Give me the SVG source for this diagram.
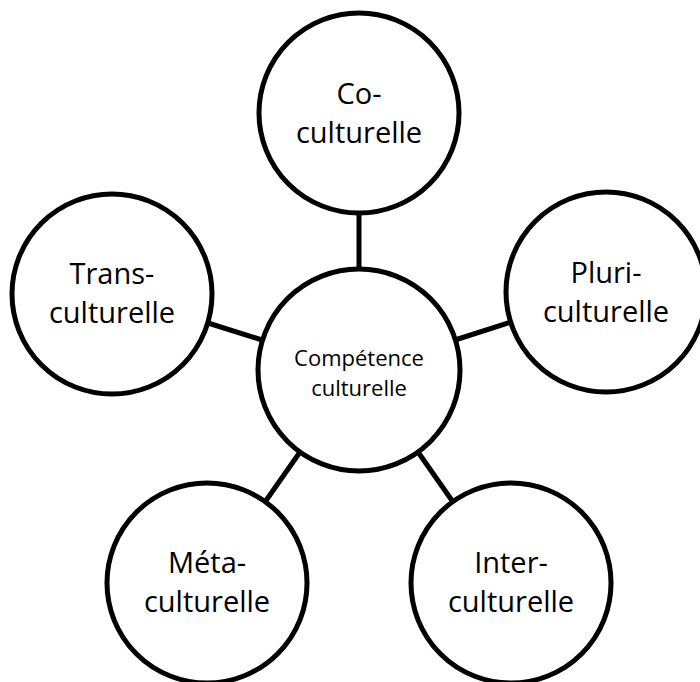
<svg xmlns="http://www.w3.org/2000/svg" width="700" height="682" viewBox="0 0 700 682">
<style>
.node circle{fill:#ffffff;stroke:#000000;stroke-width:5}
.lbl{font-family:"Open Sans","Noto Sans","Liberation Sans",sans-serif;font-size:29px;fill:#000000;text-anchor:middle}
.clbl{font-family:"Open Sans","Noto Sans","Liberation Sans",sans-serif;font-size:22px;fill:#000000;text-anchor:middle}
#connectors line{stroke:#000000;stroke-width:5}
</style>
<rect width="700" height="682" fill="#ffffff"/>
<g id="connectors">
<line x1="359" y1="213" x2="359" y2="269"/>
<line x1="208" y1="323" x2="262" y2="340"/>
<line x1="511" y1="322" x2="455" y2="340"/>
<line x1="265" y1="502" x2="300" y2="452"/>
<line x1="453" y1="502" x2="418" y2="452"/>
</g>
<g id="center" class="node">
<circle cx="359" cy="370" r="101"/>
<text class="clbl" x="359" y="366">Compétence</text>
<text class="clbl" x="359" y="396">culturelle</text>
</g>
<g id="co" class="node">
<circle cx="359" cy="113" r="100"/>
<text class="lbl" x="359" y="104">Co-</text>
<text class="lbl" x="359" y="143">culturelle</text>
</g>
<g id="trans" class="node">
<circle cx="112" cy="294" r="100"/>
<text class="lbl" x="112" y="284">Trans-</text>
<text class="lbl" x="112" y="323">culturelle</text>
</g>
<g id="pluri" class="node">
<circle cx="606" cy="292" r="100"/>
<text class="lbl" x="606" y="283">Pluri-</text>
<text class="lbl" x="606" y="322">culturelle</text>
</g>
<g id="meta" class="node">
<circle cx="207" cy="583" r="100"/>
<text class="lbl" x="207" y="573">Méta-</text>
<text class="lbl" x="207" y="612">culturelle</text>
</g>
<g id="inter" class="node">
<circle cx="511" cy="583" r="100"/>
<text class="lbl" x="511" y="573">Inter-</text>
<text class="lbl" x="511" y="612">culturelle</text>
</g>
</svg>
